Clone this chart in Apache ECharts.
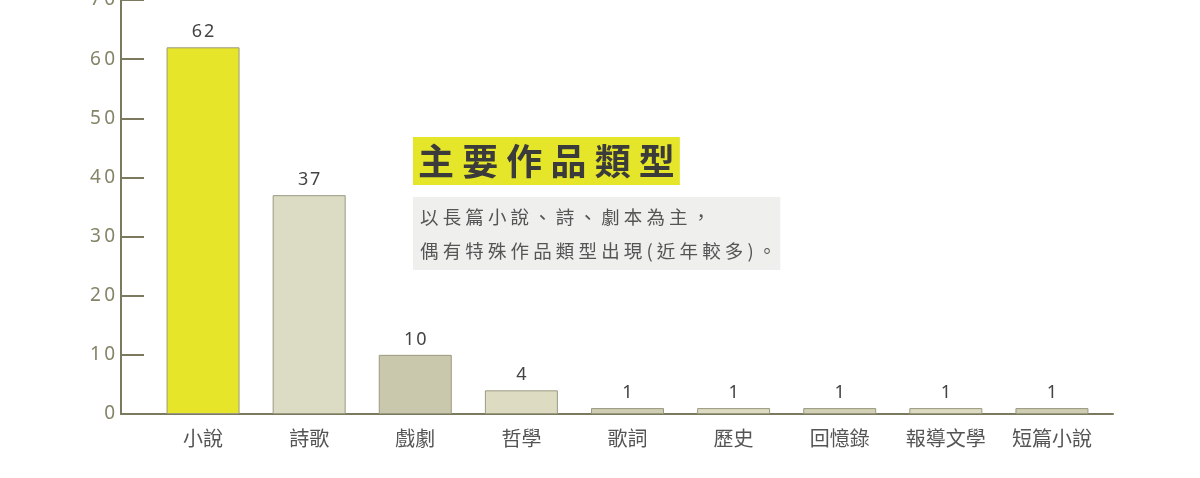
<!DOCTYPE html>
<html>
<head>
<meta charset="utf-8">
<script src="https://cdn.jsdelivr.net/npm/echarts@6/dist/echarts.min.js"></script>
<style>
html,body{margin:0;padding:0;background:#ffffff;}
#c{width:1200px;height:478px;}
</style>
</head>
<body>
<div id="c"></div>
<script>
// ---- data ----
var categories = ['小說', '詩歌', '戲劇', '哲學', '歌詞', '歷史', '回憶錄', '報導文學', '短篇小說'];
var counts = [62, 37, 10, 4, 1, 1, 1, 1, 1];
var yTicks = [0, 10, 20, 30, 40, 50, 60, 70];
var titleText = '主要作品類型';
var noteLines = ['以長篇小說、詩、劇本為主，', '偶有特殊作品類型出現(近年較多)。'];

// ---- style ----
var barColors = ['#e6e52a', '#dcdbc4', '#c9c8ac', '#dddcc3', '#cfceb2', '#dddcc2', '#d2d1b5', '#dddcc2', '#cfceb2'];
var axisColor = '#7b7a5e';
var fontFam = '"Noto Sans", "Noto Sans CJK TC", sans-serif';
var cjkFam = '"Noto Sans CJK TC", "Noto Sans", sans-serif';
function spaced(s){ return s.split('').join(' '); }

var chart = echarts.init(document.getElementById('c'), null, {renderer: 'canvas'});
chart.setOption({
  animation: false,
  backgroundColor: '#ffffff',
  title: [
    {
      text: spaced(titleText),
      left: 413, top: 137,
      padding: [5, 5, 5, 5],
      backgroundColor: '#e5e52a',
      textStyle: {fontFamily: cjkFam, fontSize: 36, fontWeight: 'bold', color: '#3b3b3b', lineHeight: 38}
    },
    {
      text: noteLines.map(spaced).join('\n'),
      left: 413, top: 197,
      padding: [3, 4, 2, 7],
      backgroundColor: '#efefed',
      textStyle: {fontFamily: cjkFam, fontSize: 18.5, fontWeight: 'normal', color: '#555555', lineHeight: 34}
    }
  ],
  grid: [
    {left: 150, right: 95, top: 0, bottom: 64, outerBoundsMode: 'none', containLabel: false},
    {left: 121, right: 87, top: 0, bottom: 64, outerBoundsMode: 'none', containLabel: false}
  ],
  xAxis: [
    {
      type: 'category', gridIndex: 0, data: categories,
      axisLine: {show: false}, axisTick: {show: false},
      axisLabel: {margin: 14, fontFamily: cjkFam, fontSize: 20, color: '#555555', interval: 0}
    },
    {
      type: 'value', gridIndex: 1, min: 0, max: 1,
      axisLine: {show: true, onZero: false, lineStyle: {color: axisColor, width: 2}},
      axisTick: {show: false}, axisLabel: {show: false}, splitLine: {show: false}
    }
  ],
  yAxis: [
    {
      type: 'value', gridIndex: 0, min: yTicks[0], max: yTicks[yTicks.length - 1], interval: 10,
      offset: 29,
      axisLine: {show: true, lineStyle: {color: axisColor, width: 2}},
      axisTick: {show: true, inside: true, length: 23, lineStyle: {color: axisColor, width: 2}},
      axisLabel: {margin: 6, fontFamily: fontFam, fontSize: 19, color: '#858468',
        formatter: function(v){ return String(v).split('').join('\u2009'); }},
      splitLine: {show: false}
    },
    {type: 'value', gridIndex: 1, show: false, min: 0, max: 1}
  ],
  series: [{
    type: 'bar', xAxisIndex: 0, yAxisIndex: 0,
    barWidth: 73,
    data: counts.map(function(v, i){ return {value: v, itemStyle: {color: barColors[i]}}; }),
    itemStyle: {borderColor: '#9a9980', borderWidth: 1},
    label: {show: true, position: 'top', distance: 6, fontFamily: fontFam, fontSize: 18, color: '#444444',
      formatter: function(p){ return String(p.value).split('').join('\u200A'); }}
  }]
});
</script>
</body>
</html>
